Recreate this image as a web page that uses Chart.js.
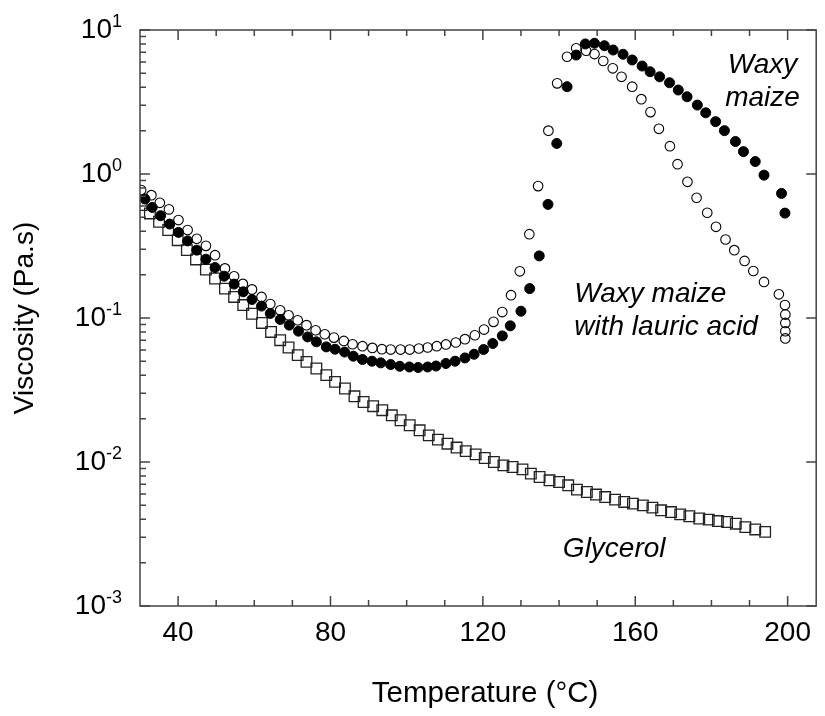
<!DOCTYPE html>
<html><head><meta charset="utf-8">
<script src="https://cdn.jsdelivr.net/npm/chart.js@4.4.0/dist/chart.umd.min.js"></script>
<style>html,body{margin:0;padding:0;background:#fff;}#wrap{width:825px;height:716px;}</style>
</head><body><div id="wrap"><canvas id="c" width="825" height="716"></canvas></div>
<script>
// ---- data ----
const waxyT = [31.3,33.2,35.4,37.8,40.1,42.5,44.9,47.3,49.7,52.1,54.7,57.1,59.4,61.9,64.2,66.8,69.2,71.6,74.0,76.3,78.9,81.2,83.7,86.0,88.4,90.9,93.2,95.8,98.2,100.7,103.0,105.5,107.7,110.3,112.7,115.3,117.7,120.2,122.6,125.1,127.2,130.0,132.3,134.8,137.1,139.4,142.1,144.5,146.9,149.3,151.9,154.2,156.8,159.2,161.8,163.9,166.4,169.0,171.3,173.6,176.3,178.5,181.1,183.4,186.3,188.4,191.5,193.8,198.4,199.3];
const waxyV = [0.670,0.586,0.513,0.449,0.393,0.343,0.296,0.256,0.224,0.195,0.172,0.152,0.1345,0.121,0.1075,0.0977,0.0892,0.0810,0.0739,0.0683,0.0630,0.0607,0.0580,0.0543,0.0515,0.0501,0.0488,0.0475,0.0462,0.0457,0.0453,0.0457,0.0464,0.0483,0.0501,0.0528,0.0560,0.0604,0.0665,0.0751,0.0882,0.1114,0.160,0.270,0.615,1.63,4.04,6.70,8.0,8.09,7.78,7.26,6.78,6.19,5.62,5.13,4.73,4.30,3.83,3.44,3.01,2.66,2.31,2.00,1.68,1.43,1.22,0.982,0.733,0.535];

const lauricT = [30.3,33.0,35.2,37.6,40.1,42.5,44.9,47.3,49.7,52.3,54.7,57.0,59.4,61.9,64.2,66.8,69.0,71.4,73.7,76.1,78.5,80.9,83.5,85.8,88.4,91.0,93.5,95.8,98.4,100.8,103.2,105.5,107.9,110.3,112.9,115.3,117.9,120.3,122.8,125.1,127.4,129.7,132.2,134.5,137.2,139.5,142.1,144.5,147.1,149.3,151.6,154.1,156.4,159.2,161.6,164.0,166.2,169.1,171.1,173.7,176.1,178.9,181.2,183.7,186.0,188.7,191.0,193.8,197.7,199.3,199.4,199.4,199.4,199.4];
const lauricV = [0.773,0.713,0.631,0.568,0.479,0.408,0.355,0.317,0.273,0.221,0.195,0.1725,0.158,0.140,0.125,0.113,0.1045,0.0965,0.0892,0.0822,0.0771,0.0731,0.0693,0.0657,0.0637,0.0620,0.0607,0.0604,0.0604,0.0604,0.0614,0.0624,0.0637,0.0655,0.0676,0.0713,0.0759,0.0831,0.0940,0.110,0.144,0.211,0.382,0.824,2.00,4.26,6.52,7.46,7.18,6.81,6.09,5.42,4.73,4.04,3.31,2.69,2.06,1.56,1.17,0.883,0.684,0.538,0.430,0.351,0.296,0.249,0.212,0.178,0.146,0.123,0.1057,0.0924,0.0809,0.0721];

const glycerolT = [30.4,32.6,35.0,37.4,39.9,42.3,44.7,47.3,49.7,52.3,54.7,57.1,59.4,62.0,64.4,66.8,69.0,71.4,73.7,76.3,78.9,81.2,83.8,86.3,88.7,91.2,93.6,96.1,98.4,100.8,103.4,105.8,108.2,110.7,113.1,115.5,118.1,120.5,122.9,125.4,127.8,130.4,132.6,134.9,137.5,140.0,142.4,144.7,147.3,149.7,152.1,154.7,157.1,159.4,162.0,164.5,166.8,169.4,171.8,174.2,176.8,179.3,181.7,184.1,186.4,188.9,191.5,194.1];
const glycerolV = [0.608,0.532,0.466,0.408,0.347,0.296,0.255,0.217,0.188,0.160,0.140,0.123,0.107,0.0924,0.080,0.0701,0.0624,0.0552,0.0496,0.0446,0.0401,0.0360,0.0324,0.0286,0.0261,0.0244,0.0229,0.0211,0.0195,0.0180,0.0166,0.0153,0.0143,0.0134,0.0126,0.0119,0.0113,0.01066,0.0100,0.00948,0.00923,0.00889,0.0083,0.00787,0.00746,0.00726,0.00689,0.00643,0.00619,0.00594,0.00571,0.00548,0.00528,0.00514,0.00500,0.00482,0.00462,0.00449,0.00433,0.00420,0.00405,0.00398,0.00389,0.00383,0.00373,0.00353,0.00340,0.00327];

const xTickValues = [40, 80, 120, 160, 200];
const xMinorValues = [50, 60, 70, 90, 100, 110, 130, 140, 150, 170, 180, 190];
const yTickValues = [0.001, 0.01, 0.1, 1, 10];
const yTickExponents = ['-3', '-2', '-1', '0', '1'];
const yMinorFactors = [2, 3, 4, 5, 6, 7, 8, 9];

const xTitle = 'Temperature (°C)';
const yTitle = 'Viscosity (Pa.s)';
const annotations = [
  {lines: ['Waxy', 'maize'], x: 193.4, y: [5.02, 2.96], align: 'center'},
  {lines: ['Waxy maize', 'with lauric acid'], x: 144.0, y: [0.129, 0.0759], align: 'left'},
  {lines: ['Glycerol'], x: 141.0, y: [0.00219], align: 'left'}
];

const FONT = '"Liberation Sans", Arial, Helvetica, sans-serif';
const pts = (T, V) => T.map((t, i) => ({x: t, y: V[i]}));

const framePlugin = {
  id: 'frame',
  afterDatasetsDraw(chart) {
    const ctx = chart.ctx, a = chart.chartArea;
    const xs = chart.scales.x, ys = chart.scales.y;
    ctx.save();
    ctx.fillStyle = '#000';
    // annotations
    ctx.font = 'italic 28px ' + FONT;
    ctx.textBaseline = 'alphabetic';
    annotations.forEach(an => {
      ctx.textAlign = an.align;
      an.lines.forEach((ln, i) => {
        ctx.fillText(ln, xs.getPixelForValue(an.x), ys.getPixelForValue(an.y[i]));
      });
    });
    // x axis title
    ctx.textAlign = 'center';
    ctx.font = '29.5px ' + FONT;
    ctx.fillText(xTitle, (a.left + a.right) / 2 + 7, a.bottom + 96);
    // frame
    ctx.strokeStyle = '#444';
    ctx.lineWidth = 1.5;
    ctx.strokeRect(a.left, a.top, a.right - a.left, a.bottom - a.top);
    ctx.beginPath();
    xTickValues.forEach(v => {
      const px = xs.getPixelForValue(v);
      ctx.moveTo(px, a.bottom); ctx.lineTo(px, a.bottom - 10);
      ctx.moveTo(px, a.top); ctx.lineTo(px, a.top + 10);
    });
    xMinorValues.forEach(v => {
      const px = xs.getPixelForValue(v);
      ctx.moveTo(px, a.bottom); ctx.lineTo(px, a.bottom - 6);
      ctx.moveTo(px, a.top); ctx.lineTo(px, a.top + 6);
    });
    yTickValues.forEach((v, k) => {
      const py = ys.getPixelForValue(v);
      ctx.moveTo(a.left, py); ctx.lineTo(a.left + 10, py);
      ctx.moveTo(a.right, py); ctx.lineTo(a.right - 10, py);
      if (k < yTickValues.length - 1) {
        yMinorFactors.forEach(f => {
          const pm = ys.getPixelForValue(v * f);
          ctx.moveTo(a.left, pm); ctx.lineTo(a.left + 6, pm);
        });
      }
    });
    ctx.stroke();
    // y tick labels 10^n
    const rightX = 122;
    ctx.textAlign = 'left';
    yTickValues.forEach((v, k) => {
      const py = ys.getPixelForValue(v);
      const ex = yTickExponents[k];
      ctx.font = '18px ' + FONT;
      const ew = ctx.measureText(ex).width;
      ctx.fillText(ex, rightX - ew, py - 3);
      ctx.font = '28px ' + FONT;
      const bw = ctx.measureText('10').width;
      ctx.fillText('10', rightX - ew - bw, py + 8);
    });
    ctx.restore();
  }
};

new Chart(document.getElementById('c').getContext('2d'), {
  type: 'scatter',
  data: {
    datasets: [
      {label: 'Waxy maize', data: pts(waxyT, waxyV), pointStyle: 'circle', pointRadius: 5,
       backgroundColor: '#000', borderColor: '#000', borderWidth: 1},
      {label: 'Waxy maize with lauric acid', data: pts(lauricT, lauricV), pointStyle: 'circle', pointRadius: 4.8,
       backgroundColor: 'rgba(0,0,0,0)', borderColor: '#000', borderWidth: 1.1},
      {label: 'Glycerol', data: pts(glycerolT, glycerolV), pointStyle: 'rect', pointRadius: 7.5,
       backgroundColor: 'rgba(0,0,0,0)', borderColor: '#222', borderWidth: 1.3}
    ]
  },
  options: {
    responsive: false, animation: false, devicePixelRatio: 1,
    layout: {padding: {top: 30, right: 3, left: 0, bottom: 0}},
    plugins: {legend: {display: false}, tooltip: {enabled: false}},
    scales: {
      x: {
        type: 'linear', min: 30, max: 207.5,
        afterBuildTicks(s) { s.ticks = xTickValues.map(v => ({value: v})); },
        afterFit(s) { s.height = 110; },
        grid: {display: false, drawTicks: false}, border: {display: false},
        ticks: {font: {family: FONT, size: 28}, color: '#000', padding: 10, maxRotation: 0, autoSkip: false},
        title: {display: false, text: xTitle}
      },
      y: {
        type: 'logarithmic', min: 0.001, max: 10,
        afterFit(s) { s.width = 140; },
        grid: {display: false, drawTicks: false}, border: {display: false},
        ticks: {display: false},
        title: {display: true, text: yTitle, color: '#000', font: {family: FONT, size: 28}, padding: {top: 8, bottom: 0}}
      }
    }
  },
  plugins: [framePlugin]
});
</script>
</body></html>
